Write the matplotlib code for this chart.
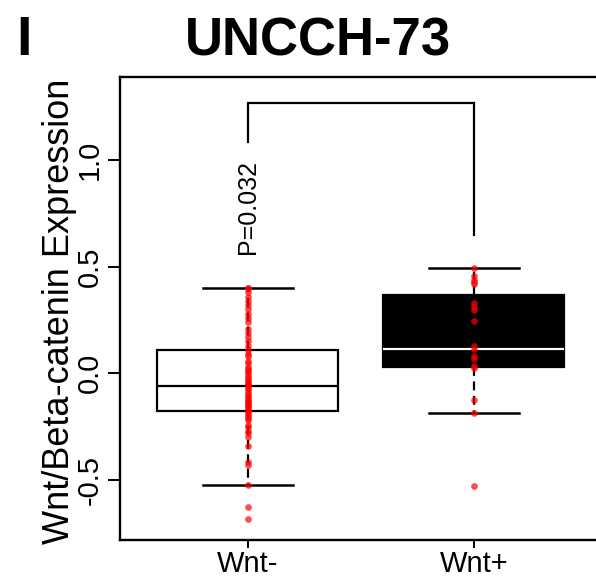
import matplotlib
matplotlib.use('Agg')
import matplotlib.pyplot as plt

plt.rcParams['font.family'] = ['Liberation Sans', 'DejaVu Sans']

# ---------------- data ----------------
categories = ['Wnt-', 'Wnt+']
positions = [1, 2]

wnt_neg = [0.40, 0.40, 0.38, 0.36, 0.34, 0.32, 0.30, 0.28, 0.26, 0.24,
           0.21, 0.19, 0.17, 0.15, 0.13, 0.108,
           0.09, 0.08, 0.06, 0.05, 0.03, 0.02, 0.01, 0.00, -0.01, -0.02,
           -0.03, -0.04, -0.05, -0.055, -0.061,
           -0.07, -0.08, -0.09, -0.10, -0.11, -0.12, -0.13, -0.135, -0.14,
           -0.15, -0.155, -0.16, -0.17, -0.175, -0.178,
           -0.19, -0.20, -0.21, -0.22, -0.24, -0.25, -0.27, -0.28, -0.30,
           -0.34, -0.415, -0.43, -0.524, -0.627, -0.683]
wnt_pos = [0.496, 0.455, 0.44, 0.429, 0.417, 0.330, 0.311, 0.299, 0.244,
           0.128, 0.113, 0.080, 0.069, 0.033, 0.027, -0.127, -0.185, -0.526]
groups = [wnt_neg, wnt_pos]

box_q1 = [-0.178, 0.028]
box_median = [-0.061, 0.113]
box_q3 = [0.108, 0.366]
whisker_low = [-0.524, -0.185]
whisker_high = [0.40, 0.496]

yticks = [-0.5, 0.0, 0.5, 1.0]
ytick_labels = ['-0.5', '0.0', '0.5', '1.0']

p_label = 'P=0.032'
p_label_y = 0.78
bracket_top = 1.269
bracket_left_bottom = 1.086
bracket_right_bottom = 0.648

title = 'UNCCH-73'
panel_letter = 'I'
ylabel = 'Wnt/Beta-catenin Expression'

# ---------------- figure ----------------
fig = plt.figure(figsize=(5.96, 5.81), dpi=100)
ax = fig.add_axes([0.2013, 0.0706, 0.8087, 0.7964])

stats = []
for i in range(2):
    stats.append(dict(med=box_median[i], q1=box_q1[i], q3=box_q3[i],
                      whislo=whisker_low[i], whishi=whisker_high[i], fliers=[]))

bp = ax.bxp(stats, positions=positions, widths=0.8, capwidths=0.4,
            patch_artist=True, showfliers=False,
            boxprops=dict(linewidth=1.6, edgecolor='black'),
            whiskerprops=dict(linewidth=1.6, linestyle=(0, (4, 2.5)), color='black'),
            capprops=dict(linewidth=1.8, color='black'),
            medianprops=dict(linewidth=1.6, color='black'))
bp['boxes'][0].set_facecolor('white')
bp['boxes'][1].set_facecolor('black')
bp['medians'][1].set_color('white')

for pos, vals in zip(positions, groups):
    ax.plot([pos] * len(vals), vals, 'o', color='#ff0000', alpha=0.7,
            markersize=4.8, markeredgewidth=0, zorder=5)

# significance bracket
ax.plot([positions[0], positions[0], positions[1], positions[1]],
        [bracket_left_bottom, bracket_top, bracket_top, bracket_right_bottom],
        color='black', linewidth=1.6, solid_joinstyle='miter', clip_on=False)
ax.text(positions[0], p_label_y, p_label, rotation=90, ha='center', va='center',
        fontsize=18)

ax.set_xlim(0.434, 2.567)
ax.set_ylim(-0.781, 1.388)
ax.set_xticks(positions)
ax.set_xticklabels(categories, fontsize=21)
ax.set_yticks(yticks)
ax.set_yticklabels(ytick_labels, fontsize=21, rotation=90, va='center')
ax.tick_params(axis='y', length=8.6, width=1.4, pad=3)
ax.tick_params(axis='x', length=6, width=1.4, pad=1)
for s in ax.spines.values():
    s.set_linewidth(1.7)

fig.text(60 / 596, 1 - 311 / 581, ylabel, rotation=90, ha='center', va='center',
         fontsize=26)
fig.text(0.534, 1 - 55 / 581, title, ha='center', va='baseline', fontsize=38,
         fontweight='bold')
fig.text(16 / 596, 1 - 55 / 581, panel_letter, ha='left', va='baseline', fontsize=40,
         fontweight='bold')

fig.savefig('out.png', dpi=100)
